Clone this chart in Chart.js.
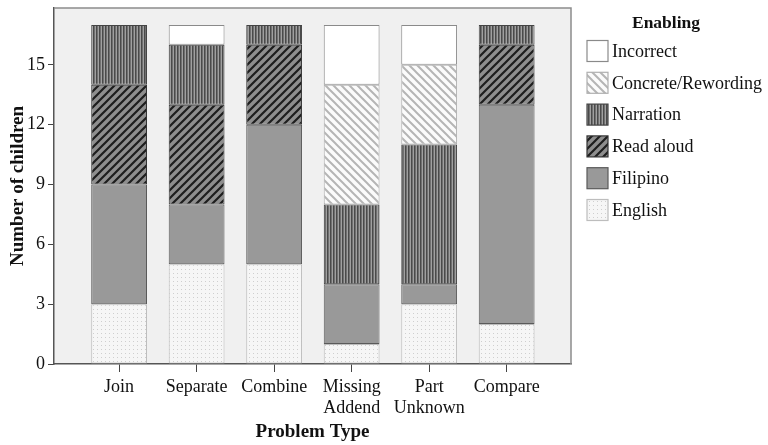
<!DOCTYPE html>
<html>
<head>
<meta charset="utf-8">
<script src="https://cdn.jsdelivr.net/npm/chart.js@4/dist/chart.umd.min.js"></script>
<style>
  html, body { margin: 0; padding: 0; background: #fff; }
  #wrap { width: 768px; height: 445px; position: relative; }
</style>
</head>
<body>
<div id="wrap"><canvas id="chart" width="768" height="445"></canvas></div>
<script>
// problem types along the x axis
const categories = ["Join", "Separate", "Combine", "Missing Addend", "Part Unknown", "Compare"];

// number of children per enabling strategy (stacked bottom -> top)
const english  = [3, 5, 5, 1, 3, 2];
const filipino = [6, 3, 7, 3, 1, 11];
const readAloud = [5, 5, 4, 0, 0, 3];
const narration = [3, 3, 1, 4, 7, 1];
const concrete  = [0, 0, 0, 6, 4, 0];
const incorrect = [0, 1, 0, 3, 2, 0];

const yTicks = [0, 3, 6, 9, 12, 15];
const FONT = "'Liberation Serif', 'DejaVu Serif', serif";

// fill patterns like the SPSS output
function makePattern(w, h, bg, draw) {
  const c = document.createElement("canvas");
  c.width = w; c.height = h;
  const x = c.getContext("2d");
  x.fillStyle = bg;
  x.fillRect(0, 0, w, h);
  if (draw) draw(x, w, h);
  return x.createPattern(c, "repeat");
}
const ctx0 = document.getElementById("chart").getContext("2d");

const patEnglish = makePattern(4, 4, "#f6f6f6", (x) => {
  x.fillStyle = "#cfcfcf";
  x.fillRect(1, 1, 1, 1);
});
const patFilipino = "#999999";
const patRead = makePattern(8, 8, "#8e8e8e", (x, w) => {
  x.strokeStyle = "#1e1e1e"; x.lineWidth = 2.2;
  x.beginPath();
  x.moveTo(-1, w + 1); x.lineTo(w + 1, -1);
  x.moveTo(-1, 1); x.lineTo(1, -1);
  x.moveTo(w - 1, w + 1); x.lineTo(w + 1, w - 1);
  x.stroke();
});
const patNarr = makePattern(3, 4, "#a0a0a0", (x) => {
  x.fillStyle = "#4a4a4a";
  x.fillRect(0, 0, 1, 4);
  x.fillStyle = "#707070";
  x.fillRect(1, 0, 1, 4);
});
const patConcrete = makePattern(8, 8, "#fbfbfb", (x, w) => {
  x.strokeStyle = "#b5b5b5"; x.lineWidth = 2;
  x.beginPath();
  x.moveTo(-1, -1); x.lineTo(w + 1, w + 1);
  x.moveTo(w - 1, -1); x.lineTo(w + 1, 1);
  x.moveTo(-1, w - 1); x.lineTo(1, w + 1);
  x.stroke();
});
const patIncorrect = "#ffffff";

function pts(arr) {
  return arr.map((v, i) => ({ x: i, y: v === 0 ? null : v }));
}

function ds(label, arr, fill, border) {
  return {
    label: label,
    data: pts(arr),
    backgroundColor: fill,
    borderColor: border,
    borderWidth: 1,
    borderSkipped: false,
    barPercentage: 0.72,
    categoryPercentage: 1
  };
}

const datasets = [
  ds("English", english, patEnglish, "#bdbdbd"),
  ds("Filipino", filipino, patFilipino, "#5a5a5a"),
  ds("Read aloud", readAloud, patRead, "#333333"),
  ds("Narration", narration, patNarr, "#444444"),
  ds("Concrete/Rewording", concrete, patConcrete, "#b0b0b0"),
  ds("Incorrect", incorrect, patIncorrect, "#8a8a8a")
];

const plotBox = {
  id: "plotBox",
  beforeDraw(chart) {
    const { ctx, chartArea: a } = chart;
    ctx.save();
    ctx.fillStyle = "#ffffff";
    ctx.fillRect(0, 0, chart.width, chart.height);
    ctx.fillStyle = "#f0f0f0";
    ctx.fillRect(a.left, a.top, a.right - a.left, a.bottom - a.top);
    ctx.restore();
  },
  afterDraw(chart) {
    const { ctx, chartArea: a } = chart;
    ctx.save();
    ctx.strokeStyle = "#8c8c8c";
    ctx.lineWidth = 1.5;
    ctx.beginPath();
    ctx.moveTo(a.left, a.top);
    ctx.lineTo(a.right, a.top);
    ctx.lineTo(a.right, a.bottom);
    ctx.stroke();

    // legend
    ctx.fillStyle = "#111";
    ctx.textBaseline = "middle";
    ctx.textAlign = "center";
    ctx.font = "bold 17.5px " + FONT;
    ctx.fillText("Enabling", 666, 23);
    ctx.textAlign = "left";
    ctx.font = "18px " + FONT;
    const items = chart.data.datasets.slice().reverse();
    items.forEach((d, i) => {
      const cy = 51 + i * 31.8;
      ctx.fillStyle = d.backgroundColor;
      ctx.fillRect(587, cy - 10.5, 21, 21);
      ctx.strokeStyle = d.borderColor;
      ctx.lineWidth = 1.2;
      ctx.strokeRect(587, cy - 10.5, 21, 21);
      ctx.fillStyle = "#111";
      ctx.fillText(d.label, 612, cy + 1);
    });
    ctx.restore();
  }
};

new Chart(ctx0, {
  type: "bar",
  data: { datasets: datasets },
  options: {
    responsive: false,
    animation: false,
    events: [],
    layout: { padding: { left: 0, top: 7, right: 197, bottom: 0 } },
    plugins: {
      legend: { display: false },
      tooltip: { enabled: false }
    },
    scales: {
      x: {
        type: "linear",
        stacked: true,
        offset: false,
        min: -0.84,
        max: 5.83,
        afterBuildTicks: (s) => { s.ticks = categories.map((_, i) => ({ value: i })); },
        afterFit: (s) => { s.height = 81; },
        grid: { offset: false, drawOnChartArea: false, drawTicks: true, tickLength: 8, color: "#444" },
        border: { color: "#555", width: 1.5 },
        ticks: {
          autoSkip: false,
          maxRotation: 0,
          padding: 5,
          color: "#111",
          font: { family: FONT, size: 18, lineHeight: 1.15 },
          callback: (v) => {
            const c = categories[v];
            return c && c.indexOf(" ") > 0 ? c.split(" ") : c;
          }
        },
        title: {
          display: true,
          text: "Problem Type",
          color: "#111",
          font: { family: FONT, size: 19, weight: "bold" },
          padding: { top: 0, bottom: 2 }
        }
      },
      y: {
        stacked: true,
        min: 0,
        max: 17.85,
        afterBuildTicks: (s) => { s.ticks = yTicks.map((v) => ({ value: v })); },
        afterFit: (s) => { s.width = 54; },
        grid: { drawOnChartArea: false, drawTicks: true, tickLength: 6, color: "#444" },
        border: { color: "#555", width: 1.5 },
        ticks: {
          padding: 3,
          color: "#111",
          font: { family: FONT, size: 18, lineHeight: 0.55 }
        },
        title: {
          display: true,
          text: "Number of children",
          color: "#111",
          font: { family: FONT, size: 19, weight: "bold" },
          padding: { top: 7, bottom: 0 }
        }
      }
    }
  },
  plugins: [plotBox]
});
</script>
</body>
</html>
